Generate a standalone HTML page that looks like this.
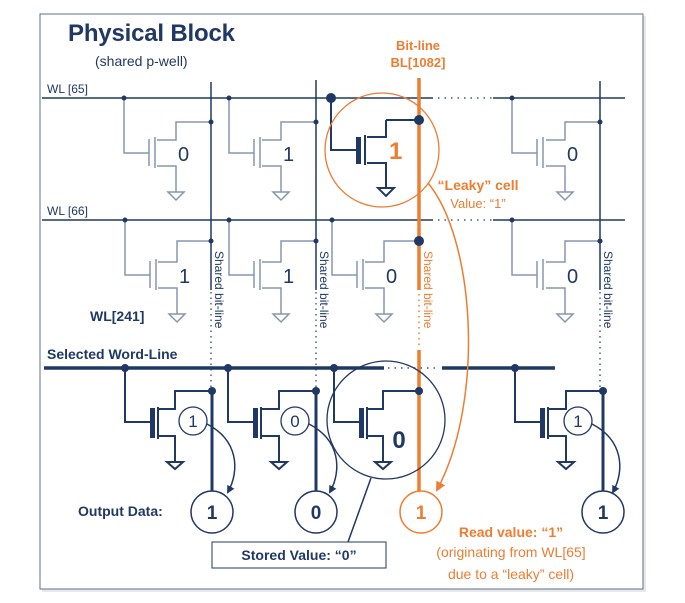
<!DOCTYPE html>
<html><head><style>
body{margin:0;background:#fff;}
svg{display:block;font-family:"Liberation Sans",sans-serif;}
</style></head><body>
<svg width="685" height="603" viewBox="0 0 685 603" xmlns="http://www.w3.org/2000/svg">
<defs>
<marker id="an" markerWidth="8" markerHeight="8" refX="6" refY="4" orient="auto" markerUnits="userSpaceOnUse"><path d="M0,0 L8,4 L0,8 Z" fill="#1f3864"/></marker>
<marker id="ao" markerWidth="10" markerHeight="10" refX="8" refY="5" orient="auto" markerUnits="userSpaceOnUse"><path d="M0,0 L10,5 L0,10 Z" fill="#ed7d31"/></marker>
</defs>
<rect x="42" y="16" width="604" height="576" fill="#e8e8e8"/>
<rect x="40" y="14" width="603" height="575" fill="#fff" stroke="#5b6f8f" stroke-width="1"/>
<text x="68" y="41" font-size="24" font-weight="bold" fill="#1f3864" textLength="167">Physical Block</text>
<text x="95" y="66" font-size="14" fill="#1f3864">(shared p-well)</text>

<g fill="#1f3864" font-size="12">
<text x="47" y="93">WL [65]</text>
<text x="47" y="215">WL [66]</text>
<text x="90" y="321" font-size="14" font-weight="bold">WL[241]</text>
<text x="47" y="359" font-size="14" font-weight="bold">Selected Word-Line</text>
<text x="78" y="516" font-size="14" font-weight="bold">Output Data:</text>
</g>

<g stroke="#1f3864" stroke-width="1.5">
<line x1="42" y1="98" x2="433" y2="98"/><line x1="493" y1="98" x2="625" y2="98"/>
<line x1="42" y1="220" x2="433" y2="220"/><line x1="493" y1="220" x2="625" y2="220"/>
</g>
<g stroke="#1f3864" stroke-width="1.2" stroke-dasharray="1.5,5">
<line x1="438" y1="98" x2="492" y2="98"/><line x1="438" y1="220" x2="492" y2="220"/>
<line x1="388" y1="368" x2="440" y2="368"/>
</g>
<g stroke="#1f3864" stroke-width="3.5">
<line x1="44" y1="368" x2="384" y2="368"/><line x1="442" y1="368" x2="555" y2="368"/>
</g>

<g stroke="#1f3864" stroke-width="1.5">
<line x1="211" y1="82" x2="211" y2="290"/><line x1="316" y1="80" x2="316" y2="290"/><line x1="600" y1="81" x2="600" y2="290"/>
</g>
<g stroke="#1f3864" stroke-width="1.2" stroke-dasharray="1.5,4">
<line x1="211" y1="292" x2="211" y2="390"/><line x1="316" y1="292" x2="316" y2="390"/><line x1="600" y1="292" x2="600" y2="390"/>
</g>
<line x1="419" y1="78" x2="419" y2="290" stroke="#ed7d31" stroke-width="3.5"/>
<line x1="419" y1="294" x2="419" y2="345" stroke="#ed7d31" stroke-width="1.5" stroke-dasharray="1.5,4"/>
<line x1="419" y1="350" x2="419" y2="491" stroke="#ed7d31" stroke-width="3.5"/>
<g stroke="#1f3864" stroke-width="3">
<line x1="212" y1="391" x2="212" y2="491"/><line x1="316" y1="391" x2="316" y2="491"/><line x1="603" y1="391" x2="603" y2="491"/>
</g>

<g fill="none" stroke="#8596b0" stroke-width="1.5">
<path d="M124,98 V153 H149 M149,139 V166 M155,137 V168 M211,122 H176 V140 H157 M157,166 H176 V192 M168,192 H184 L176,200 Z"/>
<path d="M229,98 V153 H254 M254,139 V166 M260,137 V168 M316,122 H281 V140 H262 M262,166 H281 V192 M273,192 H289 L281,200 Z"/>
<path d="M512,98 V153 H537 M537,139 V166 M543,137 V168 M600,122 H565 V140 H546 M546,166 H565 V192 M557,192 H573 L565,200 Z"/>
<path d="M125,220 V275 H150 M150,261 V288 M156,259 V290 M211,241 H177 V262 H158 M158,288 H177 V314 M169,314 H185 L177,322 Z"/>
<path d="M229,220 V275 H254 M254,261 V288 M260,259 V290 M316,241 H281 V262 H262 M262,288 H281 V314 M273,314 H289 L281,322 Z"/>
<path d="M332,220 V275 H357 M357,261 V288 M363,259 V290 M419,241 H384 V262 H365 M365,288 H384 V314 M376,314 H392 L384,322 Z"/>
<path d="M512,220 V275 H537 M537,261 V288 M543,259 V290 M600,241 H565 V262 H546 M546,288 H565 V314 M557,314 H573 L565,322 Z"/>
</g>
<g fill="#1f3864" font-size="20">
<text x="178" y="161">0</text><text x="283" y="161">1</text><text x="567" y="161">0</text>
<text x="179" y="283">1</text><text x="283" y="283">1</text><text x="386" y="283">0</text><text x="567" y="283">0</text>
</g>

<g fill="none" stroke="#1f3864" stroke-width="2">
<path d="M331,98 V150 H357 M386,120 V137 H367 M367,163 H386 V188 M378,188 H394 L386,196 Z"/>
</g>
<rect x="356" y="137" width="5" height="27" fill="#1f3864"/>
<line x1="365" y1="135" x2="365" y2="165" stroke="#1f3864" stroke-width="2"/>
<line x1="386" y1="120" x2="419" y2="120" stroke="#1f3864" stroke-width="2"/>
<text x="389" y="159" font-size="24" font-weight="bold" fill="#ed7d31">1</text>
<circle cx="382" cy="150" r="57" fill="none" stroke="#ed7d31" stroke-width="1.3"/>

<g fill="none" stroke="#1f3864" stroke-width="2">
<path d="M125,368 V422 H150 M212,391 H175 V409 H158 M158,436 H175 V462 M167,462 H183 L175,469 Z"/>
<path d="M228,368 V422 H253 M316,391 H279 V409 H261 M261,436 H279 V462 M271,462 H287 L279,469 Z"/>
<path d="M334,368 V422 H359 M419,391 H383 V409 H367 M367,436 H383 V462 M375,462 H391 L383,469 Z"/>
<path d="M515,368 V422 H540 M603,391 H566 V409 H548 M548,436 H566 V462 M558,462 H574 L566,469 Z"/>
</g>
<g fill="#1f3864">
<rect x="150" y="408" width="5" height="30"/><rect x="157" y="407" width="2" height="32"/>
<rect x="253" y="408" width="5" height="30"/><rect x="260" y="407" width="2" height="32"/>
<rect x="359" y="408" width="5" height="30"/><rect x="366" y="407" width="2" height="32"/>
<rect x="540" y="408" width="5" height="30"/><rect x="547" y="407" width="2" height="32"/>
</g>
<g fill="#fff" stroke="#1f3864" stroke-width="1.3">
<circle cx="193" cy="421" r="14"/><circle cx="295" cy="421" r="14"/><circle cx="578" cy="421" r="14"/>
</g>
<g fill="#1f3864" font-size="17" text-anchor="middle">
<text x="193" y="427">1</text><text x="295" y="427">0</text><text x="578" y="427">1</text>
</g>
<text x="399" y="448" font-size="24" font-weight="bold" fill="#1f3864" text-anchor="middle">0</text>
<circle cx="386" cy="420" r="59" fill="none" stroke="#1f3864" stroke-width="1.3"/>
<g fill="none" stroke="#1f3864" stroke-width="1.5">
<path d="M207,424 C238,440 240,470 228,492" marker-end="url(#an)"/>
<path d="M309,424 C340,440 342,470 330,492" marker-end="url(#an)"/>
<path d="M592,424 C623,440 625,470 613,492" marker-end="url(#an)"/>
<line x1="371" y1="478" x2="348" y2="542"/>
</g>

<g fill="#fff" stroke="#1f3864" stroke-width="1.5">
<circle cx="212" cy="512" r="21"/><circle cx="316" cy="512" r="21"/><circle cx="603" cy="512" r="21"/>
</g>
<circle cx="421" cy="512" r="21" fill="#fff" stroke="#ed7d31" stroke-width="1.5"/>
<g font-size="19" font-weight="bold" text-anchor="middle" fill="#1f3864">
<text x="212" y="519">1</text><text x="316" y="519">0</text><text x="603" y="519">1</text>
<text x="421" y="519" fill="#ed7d31">1</text>
</g>

<rect x="212" y="542" width="174" height="26" fill="#fff" stroke="#1f3864" stroke-width="1"/>
<text x="299" y="560" font-size="14" font-weight="bold" fill="#1f3864" text-anchor="middle">Stored Value: “0”</text>

<path d="M428,183 C475,240 485,400 437,490" fill="none" stroke="#ed7d31" stroke-width="1.5" marker-end="url(#ao)"/>

<g fill="#ed7d31" text-anchor="middle">
<text x="418" y="50" font-size="13" font-weight="bold">Bit-line</text>
<text x="418" y="67" font-size="13" font-weight="bold">BL[1082]</text>
<text x="478" y="190" font-size="14" font-weight="bold">“Leaky” cell</text>
<text x="478" y="208" font-size="13">Value: “1”</text>
<text x="511" y="537" font-size="14" font-weight="bold">Read value: “1”</text>
<text x="511" y="557" font-size="14">(originating from WL[65]</text>
<text x="511" y="579" font-size="14">due to a “leaky” cell)</text>
</g>

<g font-size="12" fill="#1f3864">
<text transform="translate(215,251) rotate(90)">Shared bit-line</text>
<text transform="translate(320,251) rotate(90)">Shared bit-line</text>
<text transform="translate(604,251) rotate(90)">Shared bit-line</text>
<text transform="translate(424,251) rotate(90)" fill="#ed7d31">Shared bit-line</text>
</g>

<g fill="#1f3864">
<circle cx="124" cy="98" r="2.5"/><circle cx="229" cy="98" r="2.5"/><circle cx="512" cy="98" r="2.5"/>
<circle cx="331" cy="98" r="5"/>
<circle cx="211" cy="122" r="2.5"/><circle cx="316" cy="122" r="2.5"/><circle cx="600" cy="122" r="2.5"/>
<circle cx="419" cy="120" r="5"/>
<circle cx="125" cy="220" r="2.5"/><circle cx="229" cy="220" r="2.5"/><circle cx="332" cy="220" r="2.5"/><circle cx="512" cy="220" r="2.5"/>
<circle cx="211" cy="241" r="2.5"/><circle cx="316" cy="241" r="2.5"/><circle cx="600" cy="241" r="2.5"/>
<circle cx="419" cy="241" r="5"/>
<circle cx="125" cy="368" r="4"/><circle cx="228" cy="368" r="4"/><circle cx="334" cy="368" r="4"/><circle cx="515" cy="368" r="4"/>
<circle cx="212" cy="391" r="4"/><circle cx="316" cy="391" r="4"/><circle cx="419" cy="391" r="4"/><circle cx="603" cy="391" r="4"/>
</g>
</svg>
</body></html>
